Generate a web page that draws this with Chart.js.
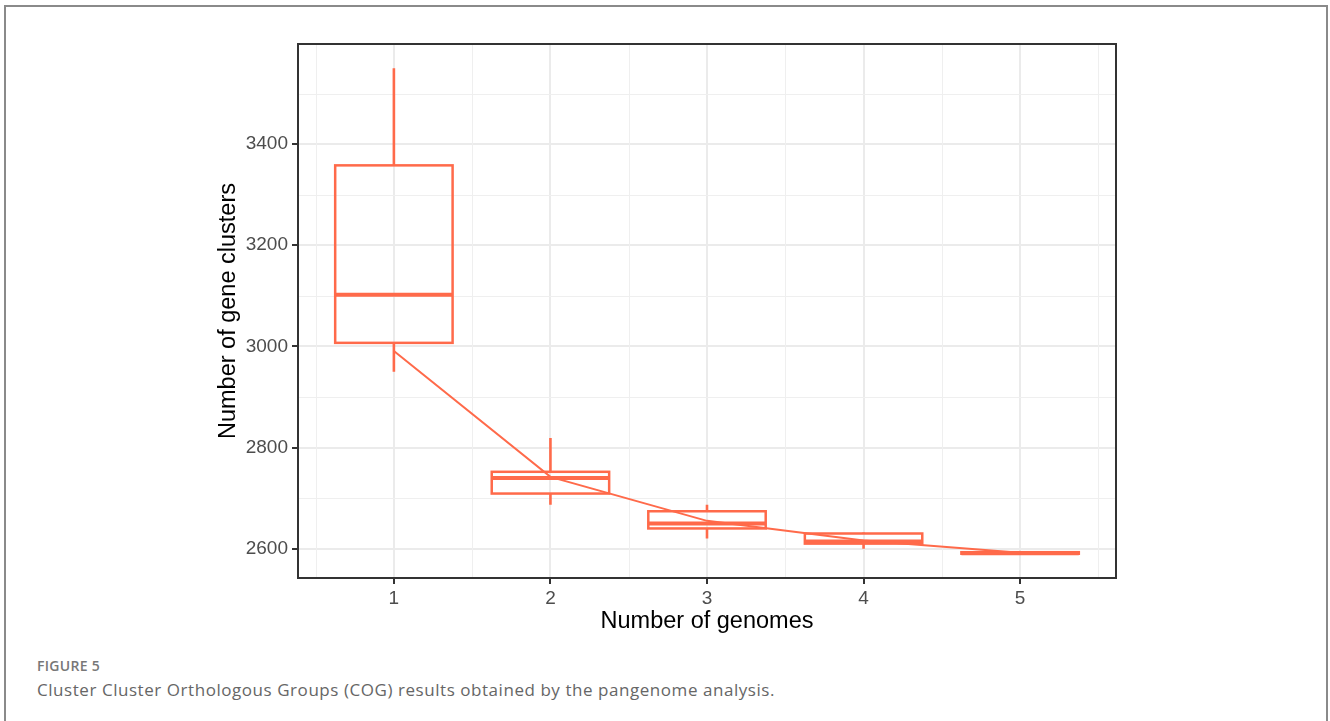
<!DOCTYPE html>
<html lang="en">
<head>
  <meta charset="UTF-8">
  <title>Figure 5 - COG pangenome</title>
  <script src="https://cdn.jsdelivr.net/npm/chart.js"></script>
  <style>
    html, body { margin: 0; padding: 0; background: #fff; }
    .frame {
      position: absolute; left: 4px; top: 5px; width: 1320px; height: 730px;
      border: 2px solid #8a8a8a; border-bottom: none;
    }
    #chart { position: absolute; left: 0; top: 0; }
    .fig-label {
      position: absolute; left: 37px; top: 656px;
      font: 600 14px "Open Sans", sans-serif; color: #777; letter-spacing: 0.3px;
    }
    .fig-caption {
      position: absolute; left: 37px; top: 678px;
      font: 17px "Open Sans", sans-serif; color: #666; letter-spacing: 0.55px;
    }
  </style>
</head>
<body>
  <div class="frame"></div>
  <canvas id="chart" width="1330" height="650"></canvas>
  <div class="fig-label">FIGURE 5</div>
  <div class="fig-caption">Cluster Cluster Orthologous Groups (COG) results obtained by the pangenome analysis.</div>

  <script>
    // box stats
    const genomes = [1, 2, 3, 4, 5];
    const lowerWhisker = [2950, 2687, 2620, 2600, 2589];
    const q1 = [3007, 2709, 2640, 2610, 2590];
    const median = [3102, 2740, 2650, 2614, 2591];
    const q3 = [3358, 2752, 2674, 2630, 2593];
    const upperWhisker = [3550, 2819, 2687, 2632, 2594];
    // line through the boxes
    const trend = [2991, 2742, 2655, 2616, 2592];

    const yTicks = [2600, 2800, 3000, 3200, 3400];
    const yMinor = [2700, 2900, 3100, 3300, 3500];
    const xMinor = [0.5, 1.5, 2.5, 3.5, 4.5, 5.5];

    const red = '#ff6a4a';
    const boxWidth = 0.75;

    // boxplot + minor grid + panel border
    const boxPlugin = {
      id: 'boxes',
      beforeDatasetsDraw(chart) {
        const { ctx, chartArea: a, scales: { x, y } } = chart;
        ctx.save();
        ctx.strokeStyle = '#efefef';
        ctx.lineWidth = 1;
        xMinor.forEach(v => {
          const px = Math.round(x.getPixelForValue(v)) + 0.5;
          ctx.beginPath(); ctx.moveTo(px, a.top); ctx.lineTo(px, a.bottom); ctx.stroke();
        });
        yMinor.forEach(v => {
          const py = Math.round(y.getPixelForValue(v)) + 0.5;
          ctx.beginPath(); ctx.moveTo(a.left, py); ctx.lineTo(a.right, py); ctx.stroke();
        });

        ctx.strokeStyle = red;
        genomes.forEach((g, i) => {
          const xc = x.getPixelForValue(g);
          const x0 = x.getPixelForValue(g - boxWidth / 2);
          const x1 = x.getPixelForValue(g + boxWidth / 2);
          const yq1 = y.getPixelForValue(q1[i]);
          const yq3 = y.getPixelForValue(q3[i]);
          ctx.lineWidth = 2.6;
          ctx.beginPath();
          ctx.moveTo(xc, y.getPixelForValue(upperWhisker[i])); ctx.lineTo(xc, yq3);
          ctx.moveTo(xc, yq1); ctx.lineTo(xc, y.getPixelForValue(lowerWhisker[i]));
          ctx.stroke();
          ctx.lineWidth = 2.5;
          ctx.strokeRect(x0, yq3, x1 - x0, yq1 - yq3);
          ctx.lineWidth = 4;
          const ym = y.getPixelForValue(median[i]);
          ctx.beginPath(); ctx.moveTo(x0, ym); ctx.lineTo(x1, ym); ctx.stroke();
        });
        ctx.restore();
      },
      afterDatasetsDraw(chart) {
        const { ctx, chartArea: a } = chart;
        ctx.save();
        ctx.strokeStyle = '#333';
        ctx.lineWidth = 2;
        ctx.strokeRect(a.left, a.top, a.right - a.left, a.bottom - a.top);
        ctx.restore();
      }
    };

    const tickFont = { family: '"Liberation Sans", Arial, sans-serif', size: 19 };
    const titleFont = { family: '"Liberation Sans", Arial, sans-serif', size: 23.5 };
    const gridOpts = { color: '#ebebeb', lineWidth: 2, tickColor: '#333', tickWidth: 2, tickLength: 6 };

    new Chart(document.getElementById('chart'), {
      type: 'line',
      data: {
        datasets: [{
          data: genomes.map((g, i) => ({ x: g, y: trend[i] })),
          borderColor: red,
          borderWidth: 2,
          pointRadius: 0,
          tension: 0
        }]
      },
      options: {
        responsive: false,
        animation: false,
        layout: { padding: { left: 214, top: 44, right: 214, bottom: 14 } },
        plugins: { legend: { display: false }, tooltip: { enabled: false } },
        scales: {
          x: {
            type: 'linear',
            min: 0.3875, max: 5.6125,
            afterBuildTicks: s => { s.ticks = genomes.map(v => ({ value: v })); },
            afterFit: s => { s.height = 58; },
            ticks: { color: '#4d4d4d', font: tickFont, padding: 3, autoSkip: false, maxRotation: 0,
                     callback: v => String(v) },
            grid: gridOpts,
            border: { color: '#333', width: 2 },
            title: { display: true, text: 'Number of genomes', color: '#000', font: titleFont, padding: 0 }
          },
          y: {
            min: 2542, max: 3598,
            afterBuildTicks: s => { s.ticks = yTicks.map(v => ({ value: v })); },
            afterFit: s => { s.width = 84; },
            ticks: { color: '#4d4d4d', font: tickFont, padding: 4, autoSkip: false,
                     callback: v => String(v) },
            grid: gridOpts,
            border: { color: '#333', width: 2 },
            title: { display: true, text: 'Number of gene clusters', color: '#000', font: titleFont, padding: 0 }
          }
        }
      },
      plugins: [boxPlugin]
    });
  </script>
</body>
</html>
